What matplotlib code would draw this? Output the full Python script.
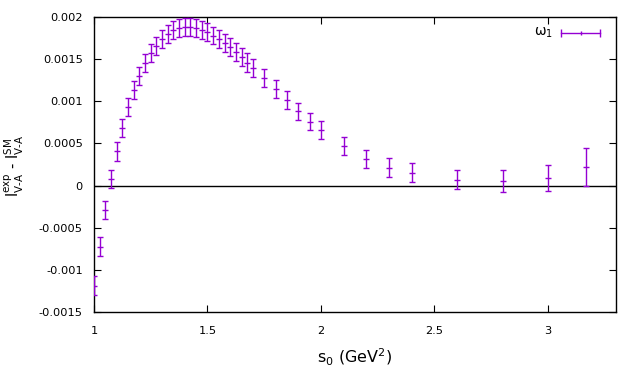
import matplotlib
matplotlib.use("Agg")
import matplotlib.pyplot as plt
from matplotlib.ticker import FixedLocator, FuncFormatter

s0 = [1.0, 1.025, 1.05, 1.075, 1.1, 1.125, 1.15, 1.175, 1.2, 1.225, 1.25, 1.275,
      1.3, 1.325, 1.35, 1.375, 1.4, 1.425, 1.45, 1.475, 1.5, 1.525, 1.55, 1.575,
      1.6, 1.625, 1.65, 1.675, 1.7, 1.75, 1.8, 1.85, 1.9, 1.95, 2.0, 2.1, 2.2,
      2.3, 2.4, 2.6, 2.8, 3.0, 3.17]
omega1 = [-0.00119, -0.000725, -0.00029, 0.000075, 0.000405, 0.00068, 0.00093,
          0.00113, 0.0013, 0.00145, 0.00157, 0.00166, 0.00174, 0.0018, 0.001846,
          0.001866, 0.00188, 0.00188, 0.001866, 0.001842, 0.00182, 0.00178,
          0.001736, 0.001688, 0.00164, 0.00158, 0.00152, 0.00146, 0.0014,
          0.001273, 0.001142, 0.00101, 0.00088, 0.00076, 0.00066, 0.00047,
          0.000316, 0.00021, 0.00015, 0.000067, 0.000055, 0.00009, 0.00022]
omega1_err = [0.000113, 0.00011, 0.000107, 0.000105, 0.00011, 0.000107, 0.000107,
              0.000107, 0.000107, 0.000107, 0.000107, 0.000107, 0.000107, 0.000107,
              0.000107, 0.000107, 0.000107, 0.000107, 0.000107, 0.000107, 0.000105,
              0.000105, 0.000107, 0.000107, 0.000105, 0.000107, 0.000107, 0.000107,
              0.000107, 0.000107, 0.000107, 0.000107, 0.000105, 0.000105, 0.000105,
              0.000107, 0.000107, 0.000113, 0.000113, 0.000113, 0.00013, 0.000155,
              0.00022]

x_ticks = [1, 1.5, 2, 2.5, 3]
x_tick_labels = ["1", "1.5", "2", "2.5", "3"]
y_ticks = [-0.0015, -0.001, -0.0005, 0, 0.0005, 0.001, 0.0015, 0.002]
y_tick_labels = ["-0.0015", "-0.001", "-0.0005", "0", "0.0005", "0.001", "0.0015", "0.002"]

purple = "#9400D3"

plt.rcParams['font.family'] = ['DejaVu Sans']
fig = plt.figure(figsize=(6.4, 3.84), dpi=100)
ax = fig.add_axes([94/640, 1 - 312/384, (616-94)/640, (312-17)/384])

ax.axhline(0, color="black", lw=1.0, zorder=1)
ax.errorbar(s0, omega1, yerr=omega1_err, fmt='_', color=purple, ecolor=purple,
            elinewidth=1.0, capsize=2.3, capthick=1.0, markersize=4.5,
            markeredgewidth=1.0, zorder=3)

ax.set_xlim(1, 3.3)
ax.set_ylim(-0.0015, 0.002)
ax.xaxis.set_major_locator(FixedLocator(x_ticks))
ax.xaxis.set_major_formatter(FuncFormatter(lambda v, p: x_tick_labels[min(range(len(x_ticks)), key=lambda i: abs(x_ticks[i]-v))]))
ax.yaxis.set_major_locator(FixedLocator(y_ticks))
ax.yaxis.set_major_formatter(FuncFormatter(lambda v, p: y_tick_labels[min(range(len(y_ticks)), key=lambda i: abs(y_ticks[i]-v))]))
ax.tick_params(direction='in', length=4.8, width=0.8, top=True, right=True,
               labelsize=8.2, colors='black')
ax.tick_params(axis='y', pad=8)
ax.tick_params(axis='x', pad=10)
for sp in ax.spines.values():
    sp.set_linewidth(1.0)

ax.set_xlabel(r"s$_0$ (GeV$^2$)", fontsize=11.5, labelpad=8)
fig.text(14/640, 1 - 166/384,
         r"I$^{\rm exp}_{\rm V\text{-}A}$ - I$^{\rm SM}_{\rm V\text{-}A}$",
         rotation=90, ha='center', va='center', fontsize=10.5)

# legend (gnuplot-style)
ly = 1 - 33/384
fig.text(553/640, ly, r"ω$_1$", ha='right', va='center', fontsize=10)
ax.plot([561/640, 600/640], [ly, ly], transform=fig.transFigure, color=purple,
        lw=1.0, clip_on=False)
ax.plot([561/640, 600/640], [ly, ly], transform=fig.transFigure, color=purple,
        lw=0, marker='|', markersize=6, markeredgewidth=1.0, clip_on=False)
ax.plot([581/640], [ly], transform=fig.transFigure, color=purple,
        lw=0, marker='|', markersize=3.5, markeredgewidth=1.0, clip_on=False)

fig.savefig("out.png", dpi=100)
